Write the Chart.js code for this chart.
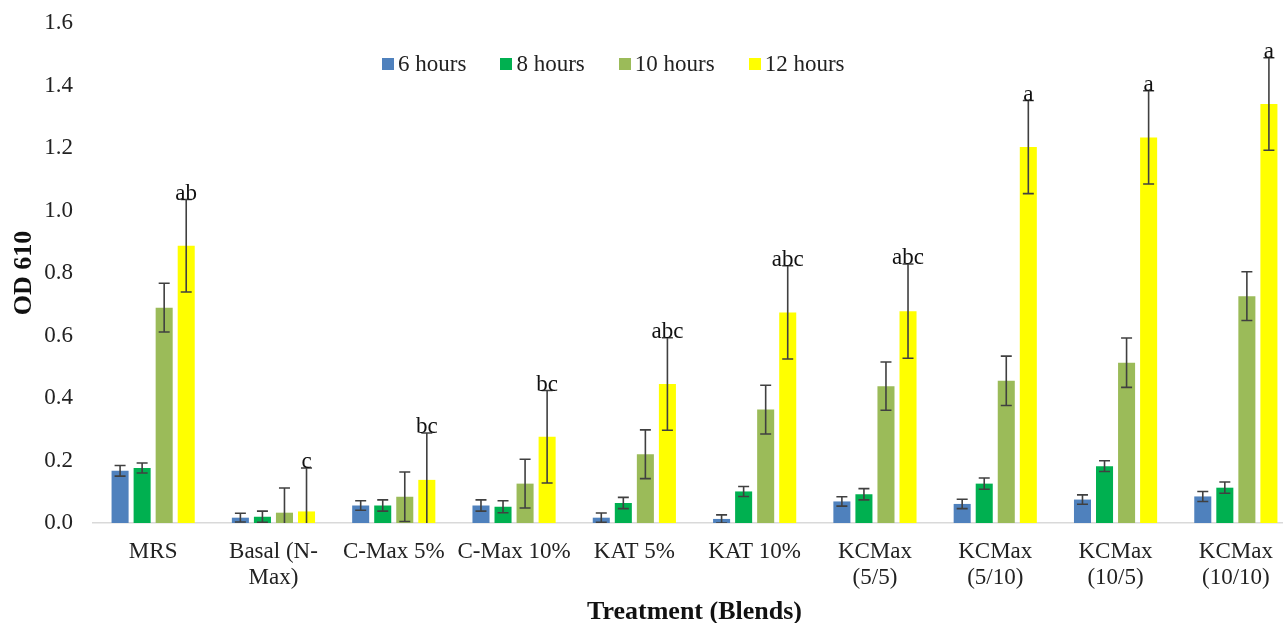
<!DOCTYPE html>
<html>
<head>
<meta charset="utf-8">
<title>OD 610 by treatment</title>
<script src="https://cdn.jsdelivr.net/npm/chart.js@4.4.0/dist/chart.umd.min.js"></script>
<style>
    html, body { margin: 0; padding: 0; background: #fff; overflow: hidden; }
    #wrap { position: relative; width: 1296px; height: 623px; }
    #legend {
        position: absolute; left: 382px; top: 51px; display: flex;
        font-family: "Liberation Serif", "Times New Roman", serif; font-size: 23px; color: #222;
    }
    .item { display: flex; align-items: center; margin-right: 34px; }
    .box { width: 12px; height: 12px; margin-right: 4px; }
</style>
</head>
<body>
<div id="wrap">
    <canvas id="odChart" width="1296" height="623"></canvas>
    <div id="legend"></div>
</div>
<script>
const categories = [
    'MRS', ['Basal (N-', 'Max)'], 'C-Max 5%', 'C-Max 10%', 'KAT 5%', 'KAT 10%',
    ['KCMax', '(5/5)'], ['KCMax', '(5/10)'], ['KCMax', '(10/5)'], ['KCMax', '(10/10)']
];
const seriesNames = ['6 hours', '8 hours', '10 hours', '12 hours'];
const seriesColors = ['#4F81BD', '#00B050', '#9BBB59', '#FFFF00'];

const hours6 = [0.167, 0.017, 0.056, 0.056, 0.017, 0.013, 0.069, 0.061, 0.075, 0.085];
const hours8 = [0.176, 0.020, 0.056, 0.052, 0.064, 0.101, 0.092, 0.126, 0.182, 0.113];
const hours10 = [0.689, 0.033, 0.084, 0.126, 0.220, 0.363, 0.438, 0.455, 0.513, 0.726];
const hours12 = [0.887, 0.037, 0.138, 0.276, 0.445, 0.674, 0.678, 1.203, 1.234, 1.341];

const err6 = [0.017, 0.014, 0.015, 0.018, 0.015, 0.013, 0.015, 0.015, 0.015, 0.016];
const err8 = [0.016, 0.018, 0.018, 0.019, 0.018, 0.016, 0.018, 0.018, 0.017, 0.018];
const err10 = [0.078, 0.079, 0.079, 0.078, 0.078, 0.078, 0.077, 0.079, 0.079, 0.078];
const err12 = [0.148, 0.139, 0.150, 0.148, 0.148, 0.149, 0.151, 0.149, 0.149, 0.148];

const letters = ['ab', 'c', 'bc', 'bc', 'abc', 'abc', 'abc', 'a', 'a', 'a'];

const yTicks = { min: 0, max: 1.6, step: 0.2 };

const serif = '"Liberation Serif", "Times New Roman", serif';
const seriesValues = [hours6, hours8, hours10, hours12];
const seriesErrors = [err6, err8, err10, err12];

// error bars + significance letters over the 12 h bars
const errorBarPlugin = {
    id: 'errorBars',
    afterDatasetsDraw(chart) {
        const ctx = chart.ctx;
        const yScale = chart.scales.y;
        const area = chart.chartArea;
        ctx.save();
        ctx.beginPath();
        ctx.rect(area.left, area.top - 40, area.right - area.left, area.bottom - area.top + 40);
        ctx.clip();
        ctx.strokeStyle = '#404040';
        ctx.lineWidth = 1.6;
        chart.data.datasets.forEach((ds, i) => {
            const meta = chart.getDatasetMeta(i);
            meta.data.forEach((bar, j) => {
                const v = ds.data[j];
                const e = seriesErrors[i][j];
                const yTop = yScale.getPixelForValue(v + e);
                const yBot = yScale.getPixelForValue(v - e);
                const yBotClamped = Math.min(yBot, area.bottom);
                ctx.beginPath();
                ctx.moveTo(bar.x, yTop);
                ctx.lineTo(bar.x, yBotClamped);
                ctx.moveTo(bar.x - 5.5, yTop);
                ctx.lineTo(bar.x + 5.5, yTop);
                if (yBot <= area.bottom) {
                    ctx.moveTo(bar.x - 5.5, yBot);
                    ctx.lineTo(bar.x + 5.5, yBot);
                }
                ctx.stroke();
            });
        });
        ctx.restore();

        const last = chart.data.datasets.length - 1;
        const meta = chart.getDatasetMeta(last);
        ctx.save();
        ctx.fillStyle = '#111';
        ctx.font = '23px ' + serif;
        ctx.textAlign = 'center';
        ctx.textBaseline = 'alphabetic';
        meta.data.forEach((bar, j) => {
            const top = yScale.getPixelForValue(hours12[j] + err12[j]);
            ctx.fillText(letters[j], bar.x, top);
        });
        ctx.restore();
    }
};

const chart = new Chart(document.getElementById('odChart').getContext('2d'), {
    type: 'bar',
    data: {
        labels: categories,
        datasets: seriesNames.map((name, i) => ({
            label: name,
            data: seriesValues[i],
            backgroundColor: seriesColors[i],
            categoryPercentage: 0.733,
            barPercentage: 0.773
        }))
    },
    options: {
        responsive: false,
        animation: false,
        layout: { padding: { top: 23, left: 0, right: 0, bottom: 0 } },
        plugins: {
            legend: { display: false },
            tooltip: { enabled: false }
        },
        scales: {
            x: {
                grid: { display: false, drawTicks: false },
                border: { display: true, color: '#d9d9d9', width: 1.5 },
                ticks: {
                    padding: 16, color: '#222', maxRotation: 0, minRotation: 0, autoSkip: false,
                    font: { family: serif, size: 23, lineHeight: 1.13 }
                },
                title: {
                    display: true, text: 'Treatment (Blends)', color: '#111',
                    font: { family: serif, size: 26, weight: 'bold', lineHeight: 0.85 },
                    padding: { top: 0, bottom: 0 }
                },
                afterFit: s => { s.height = 100; }
            },
            y: {
                min: yTicks.min,
                max: yTicks.max,
                // tickLength keeps the labels off the plot without padding the top
                grid: { display: false, drawTicks: true, tickLength: 20 },
                border: { display: false },
                ticks: {
                    stepSize: yTicks.step, padding: 0, color: '#222',
                    font: { family: serif, size: 23 },
                    callback: v => v.toFixed(1)
                },
                title: {
                    display: true, text: 'OD 610', color: '#111',
                    font: { family: serif, size: 26, weight: 'bold', lineHeight: 1 },
                    padding: { top: 11, bottom: 0 }
                },
                afterFit: s => { s.width = 93; }
            }
        }
    },
    plugins: [errorBarPlugin]
});

// legend sits inside the plot, as in the original figure
const legendEl = document.getElementById('legend');
seriesNames.forEach((name, i) => {
    const item = document.createElement('div');
    item.className = 'item';
    const box = document.createElement('span');
    box.className = 'box';
    box.style.background = seriesColors[i];
    const txt = document.createElement('span');
    txt.textContent = name;
    item.appendChild(box);
    item.appendChild(txt);
    legendEl.appendChild(item);
});
</script>
</body>
</html>
